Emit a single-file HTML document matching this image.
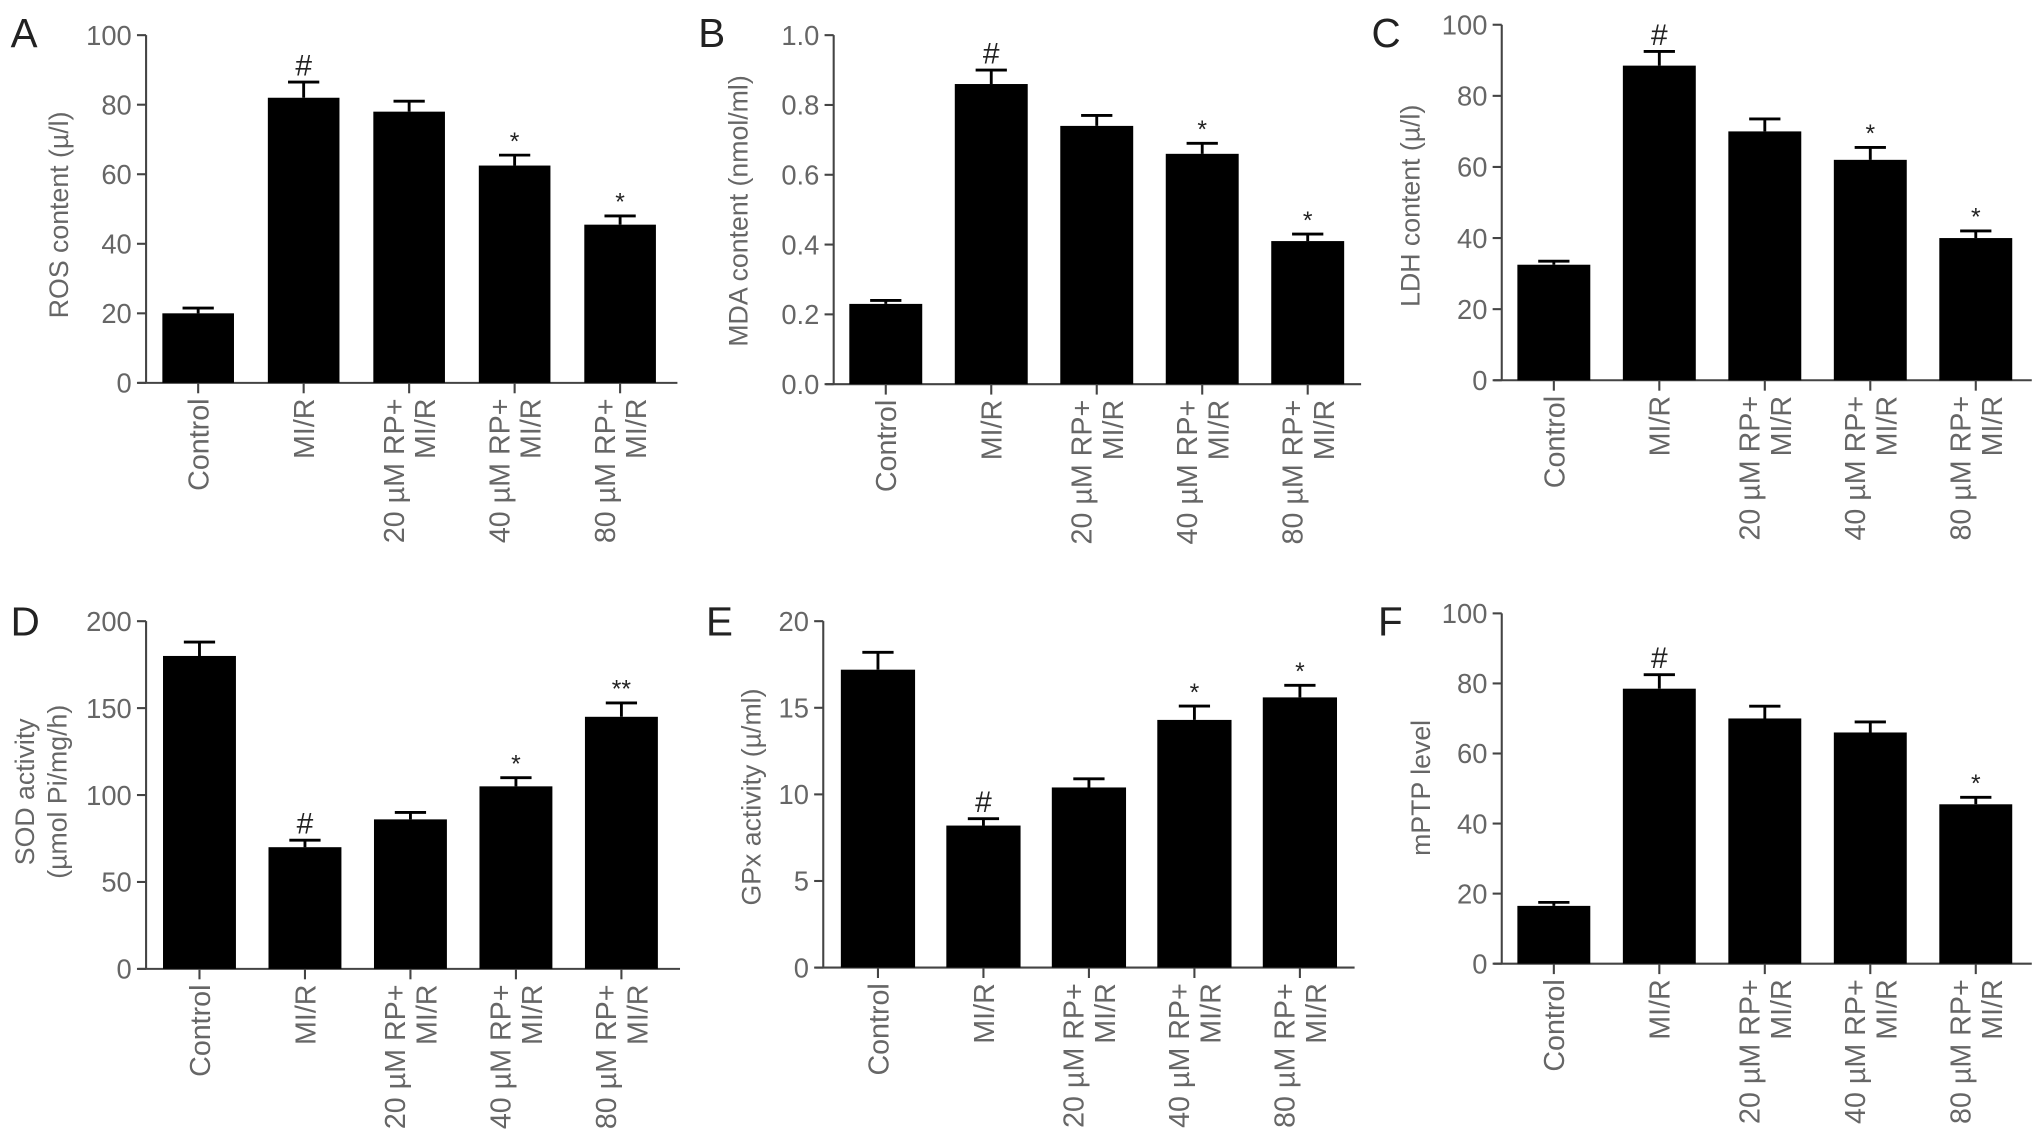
<!DOCTYPE html>
<html><head><meta charset="utf-8"><style>
html,body{margin:0;padding:0;background:#fff;}
svg{display:block;font-family:"Liberation Sans",sans-serif;}
</style></head><body>
<svg id="fig" width="2032" height="1146" viewBox="0 0 1560 880" xmlns="http://www.w3.org/2000/svg"></svg>
<script>
const categories = ["Control","MI/R","20 µM RP+|MI/R","40 µM RP+|MI/R","80 µM RP+|MI/R"];
const rosValues = [20, 82, 78, 62.5, 45.5];
const rosErrors = [1.5, 4.5, 3, 3, 2.5];
const mdaValues = [0.23, 0.86, 0.74, 0.66, 0.41];
const mdaErrors = [0.01, 0.04, 0.03, 0.03, 0.02];
const ldhValues = [32.5, 88.5, 70, 62, 40];
const ldhErrors = [1, 4, 3.5, 3.5, 2];
const sodValues = [180, 70, 86, 105, 145];
const sodErrors = [8, 4, 4, 5, 8];
const gpxValues = [17.2, 8.2, 10.4, 14.3, 15.6];
const gpxErrors = [1, 0.4, 0.5, 0.8, 0.7];
const mptpValues = [16.5, 78.5, 70, 66, 45.5];
const mptpErrors = [1, 4, 3.5, 3, 2];
const rosMarks = ["","#","","*","*"];
const mdaMarks = ["","#","","*","*"];
const ldhMarks = ["","#","","*","*"];
const sodMarks = ["","#","","*","**"];
const gpxMarks = ["","#","","*","*"];
const mptpMarks = ["","#","","","*"];
const rosTicks = ["0","20","40","60","80","100"];
const mdaTicks = ["0.0","0.2","0.4","0.6","0.8","1.0"];
const ldhTicks = ["0","20","40","60","80","100"];
const sodTicks = ["0","50","100","150","200"];
const gpxTicks = ["0","5","10","15","20"];
const mptpTicks = ["0","20","40","60","80","100"];

const NS = "http://www.w3.org/2000/svg";
const svg = document.getElementById('fig');
function mk(tag, attrs, parent){const e=document.createElementNS(NS,tag);for(const k in attrs)e.setAttribute(k,attrs[k]);(parent||svg).appendChild(e);return e;}

function panel(cfg){
  const g = mk('g',{});
  
  
  const ax = cfg.ax, y0 = cfg.y0, yT = cfg.yT, max = cfg.max, xEnd = cfg.xEnd;
  const yScale = v => y0 - (v/max)*(y0-yT);
  const bw = cfg.bw, step = cfg.step, first = cfg.first;
  const xCenter = i => first + i*step;
  const L = mk('text',{x:cfg.lx,y:cfg.ly,'font-size':31,fill:'#222'},g); L.textContent=cfg.letter;
  
  
  const ya = mk('line',{x1:ax,y1:yT,x2:ax,y2:y0,stroke:'#444','stroke-width':1.6},g);
  
  
  const xa = mk('line',{x1:ax-6,y1:y0,x2:xEnd,y2:y0,stroke:'#444','stroke-width':1.6},g);
  
  
  cfg.ticks.forEach((t,i)=>{
    const v = i*max/(cfg.ticks.length-1);
    const y = yScale(v);
    mk('line',{x1:ax-7,y1:y,x2:ax,y2:y,stroke:'#444','stroke-width':1.6},g);
    const tt = mk('text',{x:ax-11,y:y+7.5,'font-size':21,fill:'#666','text-anchor':'end'},g);
    tt.textContent=t;
    
    
  });
  cfg.ylabel.forEach((s,k)=>{
    const x = cfg.ylx + k*25;
    const yl = mk('text',{x:x,y:cfg.yly,'font-size':20.5,fill:'#666','text-anchor':'middle',transform:`rotate(-90 ${x} ${cfg.yly})`},g);
    yl.textContent=s;
    
    
  });
  cfg.values.forEach((v,i)=>{
    const cx = xCenter(i);
    const top = yScale(v), etop = yScale(v+cfg.errors[i]);
    const r = mk('rect',{x:cx-bw/2,y:top,width:bw,height:y0-top,fill:'#000'},g);
    
    
    const e = mk('path',{d:`M${cx} ${top} V${etop} M${cx-12} ${etop} H${cx+12}`,stroke:'#000','stroke-width':2.2,fill:'none'},g);
    
    
    mk('line',{x1:cx,y1:y0,x2:cx,y2:y0+8,stroke:'#444','stroke-width':1.6},g);
    if(cfg.marks[i]){
      const isHash = cfg.marks[i]==='#';
      const m = mk('text',{x:cx,y:etop-(isHash?5:4),'font-size':isHash?23:19,fill:'#222','text-anchor':'middle'},g);
      m.textContent=cfg.marks[i];
      
      
    }
    const parts = categories[i].split('|');
    const ty = y0+12;
    parts.forEach((p,k)=>{
      const tx = parts.length===1 ? cx+8 : cx-4+k*24;
      const c = mk('text',{x:tx,y:ty,'font-size':22,fill:'#666','text-anchor':'end',transform:`rotate(-90 ${tx} ${ty})`},g);
      c.textContent=p;
      
      
    });
  });
}
panel({letter:'A',lx:8,ly:36,ax:112,y0:294,yT:27,max:100,xEnd:520,first:152,step:81,bw:55,values:rosValues,errors:rosErrors,marks:rosMarks,ticks:rosTicks,ylabel:['ROS content (µ/l)'],ylx:52,yly:165});
panel({letter:'B',lx:536,ly:36,ax:640,y0:295,yT:27,max:1,xEnd:1045,first:680,step:81,bw:56,values:mdaValues,errors:mdaErrors,marks:mdaMarks,ticks:mdaTicks,ylabel:['MDA content (nmol/ml)'],ylx:574,yly:162});
panel({letter:'C',lx:1053,ly:36,ax:1153,y0:292,yT:19,max:100,xEnd:1560,first:1193,step:81,bw:56,values:ldhValues,errors:ldhErrors,marks:ldhMarks,ticks:ldhTicks,ylabel:['LDH content (µ/l)'],ylx:1090,yly:158});
panel({letter:'D',lx:8,ly:488,ax:112,y0:744,yT:477,max:200,xEnd:522,first:153,step:81,bw:56,values:sodValues,errors:sodErrors,marks:sodMarks,ticks:sodTicks,ylabel:['SOD activity','(µmol Pi/mg/h)'],ylx:26,yly:608});
panel({letter:'E',lx:542,ly:488,ax:632,y0:743,yT:477,max:20,xEnd:1040,first:674,step:81,bw:57,values:gpxValues,errors:gpxErrors,marks:gpxMarks,ticks:gpxTicks,ylabel:['GPx activity (µ/ml)'],ylx:584,yly:612});
panel({letter:'F',lx:1058,ly:488,ax:1153,y0:740,yT:471,max:100,xEnd:1560,first:1193,step:81,bw:56,values:mptpValues,errors:mptpErrors,marks:mptpMarks,ticks:mptpTicks,ylabel:['mPTP level'],ylx:1098,yly:605});
</script>
</body></html>
